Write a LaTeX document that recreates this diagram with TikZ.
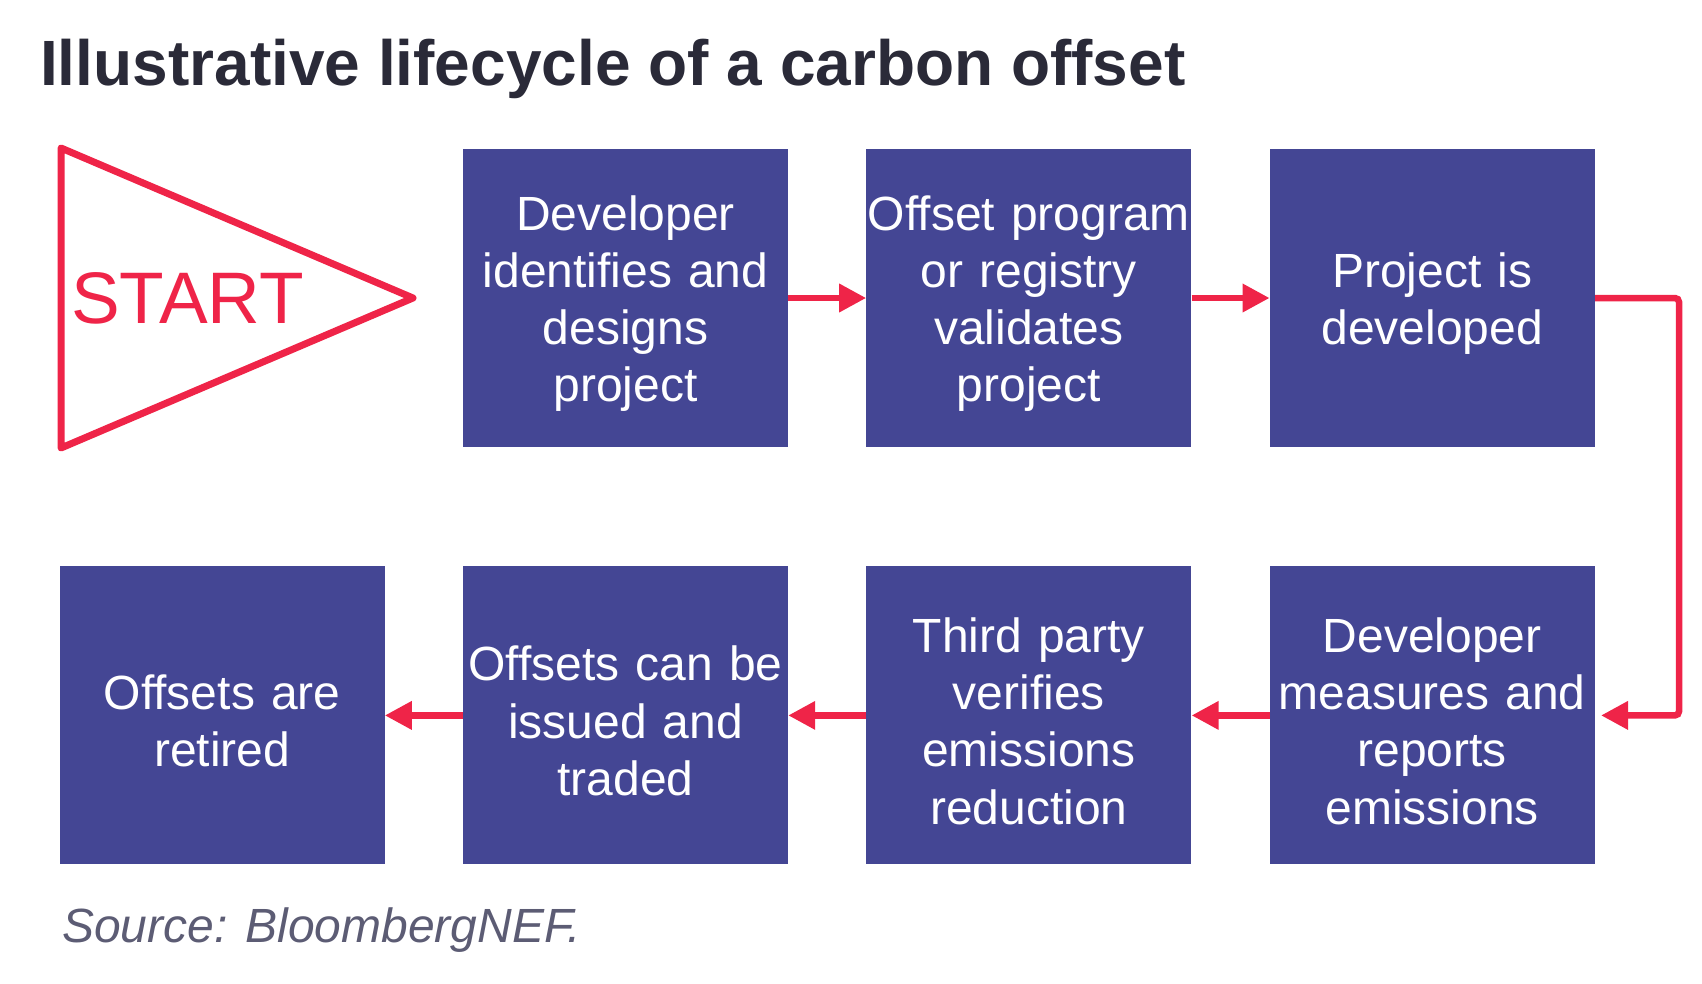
\documentclass[tikz,border=0pt]{standalone}
\usepackage{fontspec}
\setmainfont{Liberation Sans}
\usepackage{tikz}
\usetikzlibrary{arrows.meta, positioning}

\definecolor{boxblue}{HTML}{444694}
\definecolor{flowred}{HTML}{EF2448}
\definecolor{titlegray}{HTML}{2A2A38}
\definecolor{srcgray}{HTML}{5C5C74}

\begin{document}
\begin{tikzpicture}[
  x=1pt, y=-1pt,
  stepbox/.style={fill=boxblue, text=white, minimum width=325pt, minimum height=298pt, text width=325pt, text height=46pt, inner sep=0pt, align=center, font=\fontsize{48}{57.3}\selectfont},
  flow/.style={draw=flowred, line width=6.5pt, -{Triangle[length=27pt, width=27pt]}}
]
  \useasboundingbox (0,0) rectangle (1702,983);
  % title
  \node[anchor=base west, inner sep=0pt, text=titlegray, font=\fontsize{64}{70}\selectfont\bfseries] (title) at (40,85) {Illustrative lifecycle of a carbon offset};
  % start flag
  \draw[flowred, line width=7pt, line join=round] (61,148) -- (413,298) -- (61,448) -- cycle;
  \node[anchor=base west, inner sep=0pt, text=flowred, font=\fontsize{73}{80}\selectfont] (start) at (71,323) {START};
  % top row
  \node[stepbox] (dev) at (625.5,298) {Developer\\identifies and\\designs\\project};
  \node[stepbox, right=78pt of dev] (val) {Offset program\\or registry\\validates\\project};
  \node[stepbox, right=78pt of val] (built) {Project is\\developed};
  % bottom row
  \node[stepbox, below=119pt of built] (meas) {Developer\\measures and\\reports\\emissions};
  \node[stepbox, left=78pt of meas] (verif) {Third party\\verifies\\emissions\\reduction};
  \node[stepbox, left=78pt of verif] (issue) {Offsets can be\\issued and\\traded};
  \node[stepbox, left=78pt of issue] (ret) {Offsets are\\retired};
  % connectors
  \draw[flow] (dev) -- (val);
  \draw[flow] (val) -- (built);
  \draw[flow, rounded corners=4pt] (built.east) -- ++(84,0) |- ([xshift=6pt]meas.east);
  \draw[flow] (meas) -- (verif);
  \draw[flow] (verif) -- (issue);
  \draw[flow] (issue) -- (ret);
  % source
  \node[anchor=base west, inner sep=0pt, text=srcgray, font=\fontsize{48}{56}\selectfont\itshape] (src) at (62,942) {Source: BloombergNEF.};
\end{tikzpicture}
\end{document}
